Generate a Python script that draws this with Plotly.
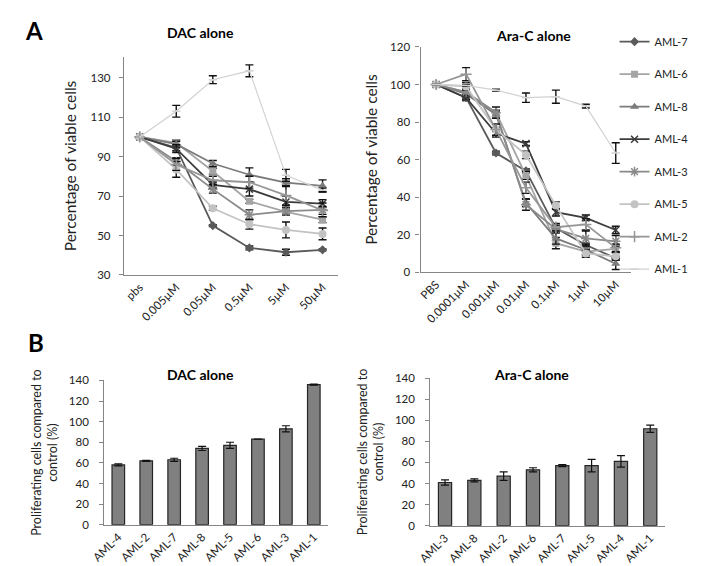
# AML viability / proliferation figure (panels A and B)
import plotly.graph_objects as go

FONT = "Lato, 'Open Sans', sans-serif"
AXIS_COLOR = "#868686"
TEXT_COLOR = "#222222"
ERR_COLOR = "#111111"

# ---- Panel A data ----
dac_doses = ["pbs", "0.005µM", "0.05µM", "0.5µM", "5µM", "50µM"]
arac_doses = ["PBS", "0.0001µM", "0.001µM", "0.01µM", "0.1µM", "1µM", "10µM"]

lines = ["AML-7", "AML-6", "AML-8", "AML-4", "AML-3", "AML-5", "AML-2", "AML-1"]

dac_aml7 = [100, 94.5, 55, 43.7, 41.5, 42.7]
dac_aml6 = [100, 97, 82.6, 67.3, 62, 58]
dac_aml8 = [100, 96.3, 86.5, 80.8, 76.8, 75.2]
dac_aml4 = [100, 94, 75.6, 73.5, 67, 66.2]
dac_aml3 = [100, 87.5, 73.5, 60.5, 62.3, 63]
dac_aml5 = [100, 83.5, 63.8, 55.7, 52.8, 50.8]
dac_aml2 = [100, 86, 78, 77, 70.3, 62.7]
dac_aml1 = [100, 113, 129, 133.5, 80.5, 73]

dac_err_aml7 = [0, 1.5, 0.5, 1, 1.5, 0.5]
dac_err_aml6 = [0, 1.5, 1.5, 1, 1, 1.5]
dac_err_aml8 = [0, 1.5, 1.5, 3.5, 2, 3]
dac_err_aml4 = [0, 2, 1.5, 3.5, 3, 2]
dac_err_aml3 = [0, 2, 2, 2.5, 2, 3.5]
dac_err_aml5 = [0, 4, 1, 2.5, 4, 3]
dac_err_aml2 = [0, 3, 2, 3, 5, 2]
dac_err_aml1 = [0, 3, 2, 3, 3, 1]

arac_aml7 = [100, 93, 63.5, 54, 23.5, 14.5, 7.5]
arac_aml6 = [100, 96, 85, 51.5, 15.5, 11, 12.5]
arac_aml8 = [100, 95, 84, 37, 18, 12, 4.5]
arac_aml4 = [100, 93, 74, 68.5, 32, 29, 22.5]
arac_aml3 = [100, 96, 85, 36, 23, 18, 16.5]
arac_aml5 = [100, 99, 76, 62.5, 35.5, 10, 8.5]
arac_aml2 = [100, 105.5, 76, 45, 24, 25.5, 13]
arac_aml1 = [100, 99.5, 97, 93, 93.5, 88.5, 63.5]

arac_err_aml7 = [0, 1.5, 1, 1, 1, 1, 1]
arac_err_aml6 = [0, 2, 1.5, 2, 3, 1.5, 2]
arac_err_aml8 = [0, 1.5, 2, 2, 3, 3, 3]
arac_err_aml4 = [0, 1, 2, 1, 2, 1.5, 2]
arac_err_aml3 = [0, 1.5, 3, 3, 2, 4, 3]
arac_err_aml5 = [0, 2, 1, 2, 2, 2, 2]
arac_err_aml2 = [0, 3.5, 3, 3, 2, 3, 2]
arac_err_aml1 = [0, 0.5, 0.5, 2.5, 3.5, 1, 5.5]

# ---- Panel B data ----
dac_bar_lines = ["AML-4", "AML-2", "AML-7", "AML-8", "AML-5", "AML-6", "AML-3", "AML-1"]
dac_bar_vals = [58, 62, 63, 74, 77, 83, 93, 136]
dac_bar_err = [1, 0.5, 1.5, 2, 3, 0, 3, 0.5]

arac_bar_lines = ["AML-3", "AML-8", "AML-2", "AML-6", "AML-7", "AML-5", "AML-4", "AML-1"]
arac_bar_vals = [41, 43, 47, 53, 57, 57, 61, 92]
arac_bar_err = [2.5, 1.5, 4, 2, 1, 6, 5.5, 3.5]

# styling per cell line
styles = {
    "AML-7": dict(color="#5a5a5a", symbol="diamond", size=7),
    "AML-6": dict(color="#a5a5a5", symbol="square", size=7),
    "AML-8": dict(color="#7b7b7b", symbol="triangle-up", size=8),
    "AML-4": dict(color="#3c3c3c", symbol="x-thin", size=7),
    "AML-3": dict(color="#8a8a8a", symbol="asterisk", size=8),
    "AML-5": dict(color="#c3c3c3", symbol="circle", size=8),
    "AML-2": dict(color="#969696", symbol="cross-thin", size=8),
    "AML-1": dict(color="#d2d2d2", symbol="line-ew", size=6),
}

dac_series = [dac_aml7, dac_aml6, dac_aml8, dac_aml4, dac_aml3, dac_aml5, dac_aml2, dac_aml1]
dac_errs = [dac_err_aml7, dac_err_aml6, dac_err_aml8, dac_err_aml4, dac_err_aml3,
            dac_err_aml5, dac_err_aml2, dac_err_aml1]
arac_series = [arac_aml7, arac_aml6, arac_aml8, arac_aml4, arac_aml3, arac_aml5, arac_aml2, arac_aml1]
arac_errs = [arac_err_aml7, arac_err_aml6, arac_err_aml8, arac_err_aml4, arac_err_aml3,
             arac_err_aml5, arac_err_aml2, arac_err_aml1]

fig = go.Figure()

for rank, (name, ys, es) in enumerate(zip(lines, dac_series, dac_errs)):
    st = styles[name]
    lw = 1.2 if name == "AML-1" else 1.8
    # open symbols need a stroke to be visible
    sym_line = dict(width=1.5, color=st["color"]) if st["symbol"] in ("x-thin", "cross-thin", "asterisk", "line-ew") else dict(width=0)
    common = dict(
        mode="lines+markers", name=name, legendgroup=name, legendrank=rank,
        line=dict(color=st["color"], width=lw),
        marker=dict(symbol=st["symbol"], size=st["size"], color=st["color"], line=sym_line),
    )
    fig.add_trace(go.Scatter(
        x=dac_doses, y=ys, xaxis="x", yaxis="y", showlegend=False,
        error_y=dict(type="data", array=es, color=ERR_COLOR, thickness=1.4, width=4),
        **common))
    fig.add_trace(go.Scatter(
        x=arac_doses, y=arac_series[rank], xaxis="x2", yaxis="y2", showlegend=True,
        error_y=dict(type="data", array=arac_errs[rank], color=ERR_COLOR, thickness=1.4, width=4),
        **common))

bar_style = dict(color="#808080", line=dict(color="#262626", width=1.2))
fig.add_trace(go.Bar(
    x=dac_bar_lines, y=dac_bar_vals, xaxis="x3", yaxis="y3", width=0.45,
    marker=bar_style, showlegend=False,
    error_y=dict(type="data", array=dac_bar_err, color=ERR_COLOR, thickness=1.2, width=4)))
fig.add_trace(go.Bar(
    x=arac_bar_lines, y=arac_bar_vals, xaxis="x4", yaxis="y4", width=0.45,
    marker=bar_style, showlegend=False,
    error_y=dict(type="data", array=arac_bar_err, color=ERR_COLOR, thickness=1.2, width=4)))

tick_font = dict(size=11.5, color=TEXT_COLOR, family=FONT)


def xax(domain, anchor):
    return dict(domain=domain, anchor=anchor, type="category", showline=True,
                linecolor=AXIS_COLOR, linewidth=1.3, showgrid=False, ticks="",
                tickangle=-45, tickfont=tick_font, zeroline=False)


def yax(domain, anchor, rng, tickvals, title, title_size, pad, standoff):
    return dict(domain=domain, anchor=anchor, range=rng, tickvals=tickvals,
                showline=True, linecolor=AXIS_COLOR, linewidth=1.3, showgrid=False,
                ticks="outside", ticklen=4, tickcolor=AXIS_COLOR, tickfont=tick_font,
                ticklabelstandoff=pad, zeroline=False,
                title=dict(text=title, font=dict(size=title_size, color=TEXT_COLOR, family=FONT),
                           standoff=standoff))


fig.update_layout(
    width=703, height=566,
    paper_bgcolor="white", plot_bgcolor="white",
    font=dict(family=FONT, color=TEXT_COLOR),
    margin=dict(l=0, r=0, t=0, b=0),
    barmode="group",
    xaxis=xax([0.148, 0.459], "y"),
    yaxis=yax([0.530, 0.924], "x", [30, 140.5], [30, 50, 70, 90, 110, 130],
              "Percentage of viable cells", 15.5, 6, 10),
    xaxis2=xax([0.5785, 0.8843], "y2"),
    yaxis2=yax([0.5348, 0.9422], "x2", [0, 120], [0, 20, 40, 60, 80, 100, 120],
               "Percentage of viable cells", 15.5, 3, 8),
    xaxis3=xax([0.1195, 0.4438], "y3"),
    yaxis3=yax([0.0783, 0.3392], "x3", [0, 140], [0, 20, 40, 60, 80, 100, 120, 140],
               "Proliferating cells compared to<br>control (%)", 12.5, 8, 8),
    xaxis4=xax([0.5927, 0.9331], "y4"),
    yaxis4=yax([0.0765, 0.3433], "x4", [0, 140], [0, 20, 40, 60, 80, 100, 120, 140],
               "Proliferating cells compared to<br>control (%)", 12.5, 8, 8),
    legend=dict(x=0.86, y=0.978, xanchor="left", yanchor="top",
                font=dict(size=11, color=TEXT_COLOR, family=FONT),
                tracegroupgap=13.5, itemwidth=30, bgcolor="rgba(0,0,0,0)"),
)

annotations = [
    dict(text="<b>A</b>", x=12 / 703, y=1 - 16 / 566, size=24),
    dict(text="<b>B</b>", x=14 / 703, y=1 - 335 / 566, size=24),
    dict(text="<b>DAC alone</b>", x=182 / 703, y=1 - 18 / 566, size=14),
    dict(text="<b>Ara-C alone</b>", x=522 / 703, y=1 - 21 / 566, size=14),
    dict(text="<b>DAC alone</b>", x=182 / 703, y=1 - 368 / 566, size=14),
    dict(text="<b>Ara-C alone</b>", x=520 / 703, y=1 - 368 / 566, size=14),
]
for a in annotations:
    fig.add_annotation(text=a["text"], x=a["x"], y=a["y"], xref="paper", yref="paper",
                       showarrow=False, xanchor="center", yanchor="middle",
                       font=dict(size=a["size"], color="#000000", family=FONT))

fig.write_html("out.html")
